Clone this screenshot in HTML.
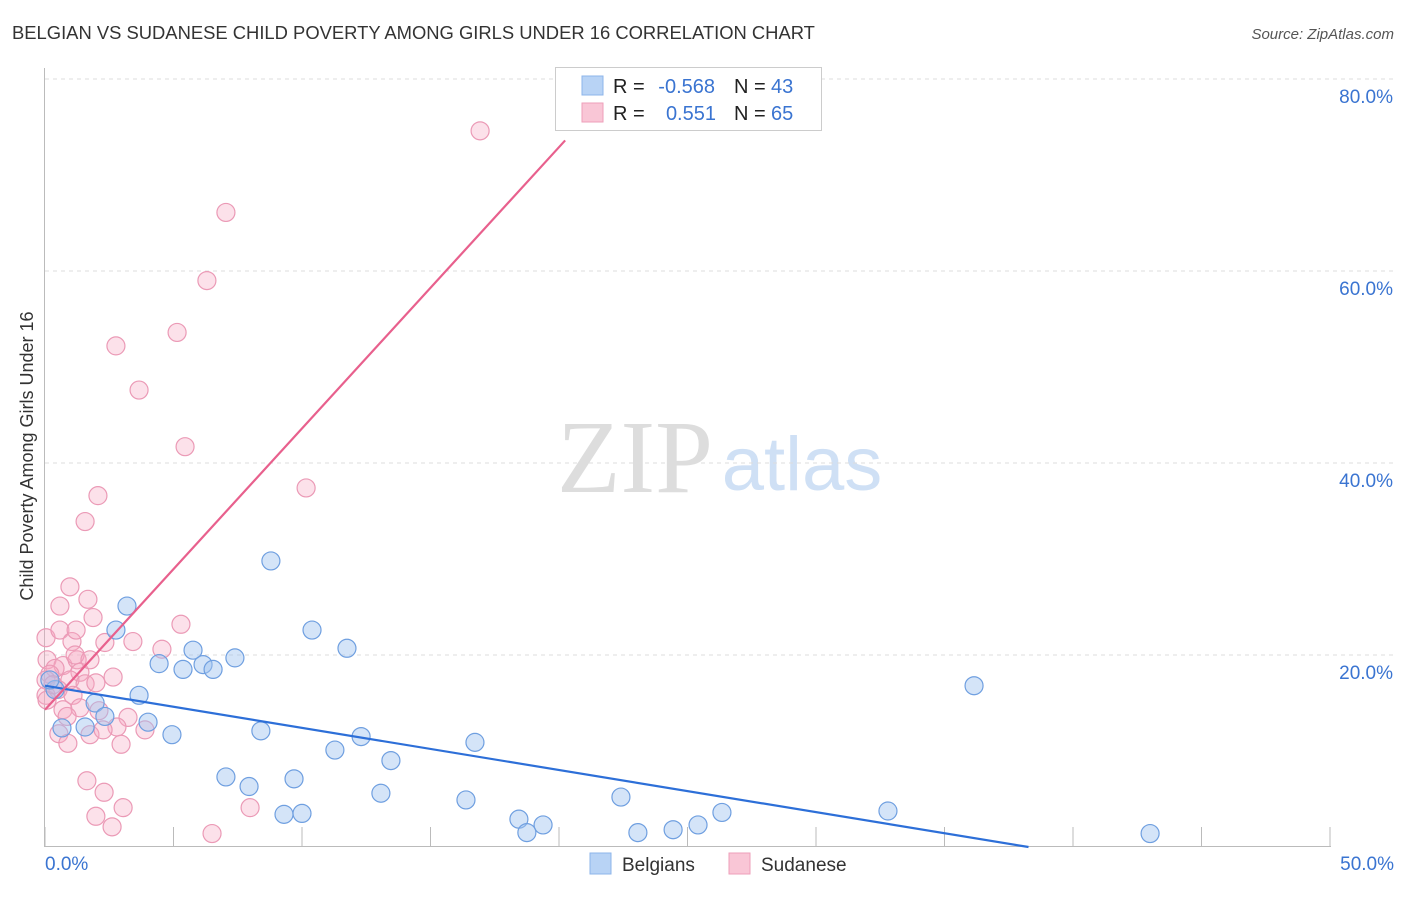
<!DOCTYPE html>
<html><head><meta charset="utf-8">
<style>
body{margin:0;background:#fff;font-family:"Liberation Sans",sans-serif;}
svg text{font-family:"Liberation Sans",sans-serif;}
</style></head>
<body>
<svg id="chart" width="1406" height="892" viewBox="0 0 1406 892">
<text x="12" y="39" font-size="18.4" fill="#333">BELGIAN VS SUDANESE CHILD POVERTY AMONG GIRLS UNDER 16 CORRELATION CHART</text>
<text x="1394" y="39" font-size="15" fill="#555" font-style="italic" text-anchor="end">Source: ZipAtlas.com</text>
<text x="33" y="456" font-size="18" fill="#333" text-anchor="middle" transform="rotate(-90 33 456)">Child Poverty Among Girls Under 16</text>
<g>
<text x="635" y="492" font-size="104" fill="#ddd" text-anchor="middle" style="font-family:'Liberation Serif',serif">ZIP</text>
<text x="802" y="490" font-size="76" fill="#cfe0f5" text-anchor="middle">atlas</text>
</g>
<g id="grid"></g>
<g id="axes"></g>
<g id="marks"></g>
<g id="lines"></g>
<g>
<rect x="555.500" y="67.500" width="266" height="63" fill="#fff" stroke="#ccc"/>
<rect x="582" y="76" width="21" height="19" fill="#b8d3f5" stroke="#8db4ea"/>
<rect x="582" y="103" width="21" height="19" fill="#f9c6d6" stroke="#ee9fba"/>
<text x="613" y="93" font-size="20" fill="#222">R =</text>
<text x="715" y="93" font-size="20" fill="#3a74d1" text-anchor="end">-0.568</text>
<text x="734" y="93" font-size="20" fill="#222">N =</text>
<text x="771" y="93" font-size="20" fill="#3a74d1">43</text>
<text x="613" y="120" font-size="20" fill="#222">R =</text>
<text x="716" y="120" font-size="20" fill="#3a74d1" text-anchor="end">0.551</text>
<text x="734" y="120" font-size="20" fill="#222">N =</text>
<text x="771" y="120" font-size="20" fill="#3a74d1">65</text>
</g>
<g>
<rect x="590" y="853" width="21" height="21" fill="#b8d3f5" stroke="#8db4ea"/>
<text x="622" y="871" font-size="19" fill="#333">Belgians</text>
<rect x="729" y="853" width="21" height="21" fill="#f9c6d6" stroke="#ee9fba"/>
<text x="761" y="871" font-size="19" fill="#333">Sudanese</text>
</g>
</svg>
<script>
const belgX=[3.19,2.76,8.79,10.39,11.75,5.76,7.39,4.44,5.37,6.15,6.54,3.66,1.95,2.33,4.01,1.56,0.66,4.94,8.40,11.28,12.30,16.73,13.46,7.04,9.69,7.94,13.07,16.38,22.41,26.34,32.80,9.30,10.0,18.44,19.38,18.75,23.07,24.44,25.41,36.15,43.0,0.39,0.19];
const belgY=[25.1,22.6,29.8,22.6,20.7,20.5,19.7,19.1,18.5,19.0,18.5,15.8,15.0,13.6,13.0,12.5,12.4,11.7,12.1,10.1,11.5,10.9,9.0,7.3,7.1,6.3,5.6,4.9,5.2,3.6,3.75,3.4,3.5,2.9,2.3,1.5,1.5,1.8,2.3,16.8,1.4,16.4,17.4];
const sudX=[16.93,7.04,6.30,5.14,2.76,3.66,5.45,10.16,2.06,1.56,0.97,0.58,1.67,1.87,0.04,0.58,1.05,1.21,2.33,3.42,5.29,4.55,0.08,0.70,1.25,0.39,0.19,1.36,0.97,0.04,1.56,1.98,2.65,0.51,0.04,1.09,0.70,1.36,2.10,3.23,0.86,2.80,3.89,0.54,1.75,2.26,0.89,2.96,1.63,2.30,3.04,1.98,2.61,6.50,7.98,0.08,0.31,1.17,1.75];
const sudY=[74.6,66.1,59.0,53.6,52.2,47.6,41.7,37.4,36.6,33.9,27.1,25.1,25.8,23.9,21.8,22.6,21.4,22.6,21.3,21.4,23.2,20.6,19.5,18.9,19.5,18.6,18.0,18.2,17.4,17.4,17.0,17.1,17.7,16.4,15.8,15.8,14.3,14.5,14.2,13.5,13.6,12.5,12.2,11.8,11.7,12.2,10.8,10.7,6.9,5.7,4.1,3.2,2.1,1.4,4.1,15.3,16.9,20.0,19.5];
const belgTrend=[16.8,-0.439];   // intercept, slope
const sudTrend=[14.3,2.93];
const yTicks=[20,40,60,80];
const yTickLabels=["20.0%","40.0%","60.0%","80.0%"];
const xTicks=[0,5,10,15,20,25,30,35,40,45,50];

const NS="http://www.w3.org/2000/svg";
const sx=v=>45+v*25.7, sy=v=>847-v*9.6;
function mk(tag,attrs,parent){const e=document.createElementNS(NS,tag);for(const k in attrs)e.setAttribute(k,attrs[k]);parent.appendChild(e);return e;}
const grid=document.getElementById('grid'),axes=document.getElementById('axes'),marks=document.getElementById('marks'),lines=document.getElementById('lines');
yTicks.forEach((t,i)=>{
  const l=mk('line',{x1:45,x2:1394,y1:sy(t),y2:sy(t),stroke:'#ddd','stroke-dasharray':'4,4'},grid);
  
  
  const tx=mk('text',{x:1393,y:sy(t)+24,'font-size':19,fill:'#3a74d1','text-anchor':'end'},axes);
  tx.textContent=yTickLabels[i];
  
  
});
const ax=mk('line',{x1:44.5,x2:44.5,y1:68,y2:847,stroke:'#bbb'},axes);


const bx=mk('line',{x1:44,x2:1331,y1:846.5,y2:846.5,stroke:'#bbb'},axes);


xTicks.forEach(t=>{
  const l=mk('line',{x1:sx(t),x2:sx(t),y1:827,y2:847,stroke:'#bbb'},axes);
  
  
});
const xl0=mk('text',{x:45,y:870,'font-size':19,fill:'#3a74d1'},axes);xl0.textContent='0.0%';


const xl1=mk('text',{x:1394,y:870,'font-size':19,fill:'#3a74d1','text-anchor':'end'},axes);xl1.textContent='50.0%';



sudX.forEach((x,i)=>{
  const c=mk('circle',{cx:sx(x),cy:sy(sudY[i]),r:9,fill:'rgba(246,170,196,0.35)',stroke:'#eb9ab6','stroke-width':1.2},marks);
  
  
});
belgX.forEach((x,i)=>{
  const c=mk('circle',{cx:sx(x),cy:sy(belgY[i]),r:9,fill:'rgba(160,195,240,0.45)',stroke:'#6f9fe0','stroke-width':1.2},marks);
  
  
});
const bEnd=-belgTrend[0]/belgTrend[1];
const bl=mk('line',{x1:sx(0),y1:sy(belgTrend[0]),x2:sx(bEnd),y2:sy(0),stroke:'#2d6fd8','stroke-width':2.2},lines);


const sEnd=(73.6-sudTrend[0])/sudTrend[1];
const pl=mk('line',{x1:sx(0),y1:sy(sudTrend[0]),x2:sx(sEnd),y2:sy(73.6),stroke:'#e8608d','stroke-width':2.2},lines);


</script>
</body></html>
